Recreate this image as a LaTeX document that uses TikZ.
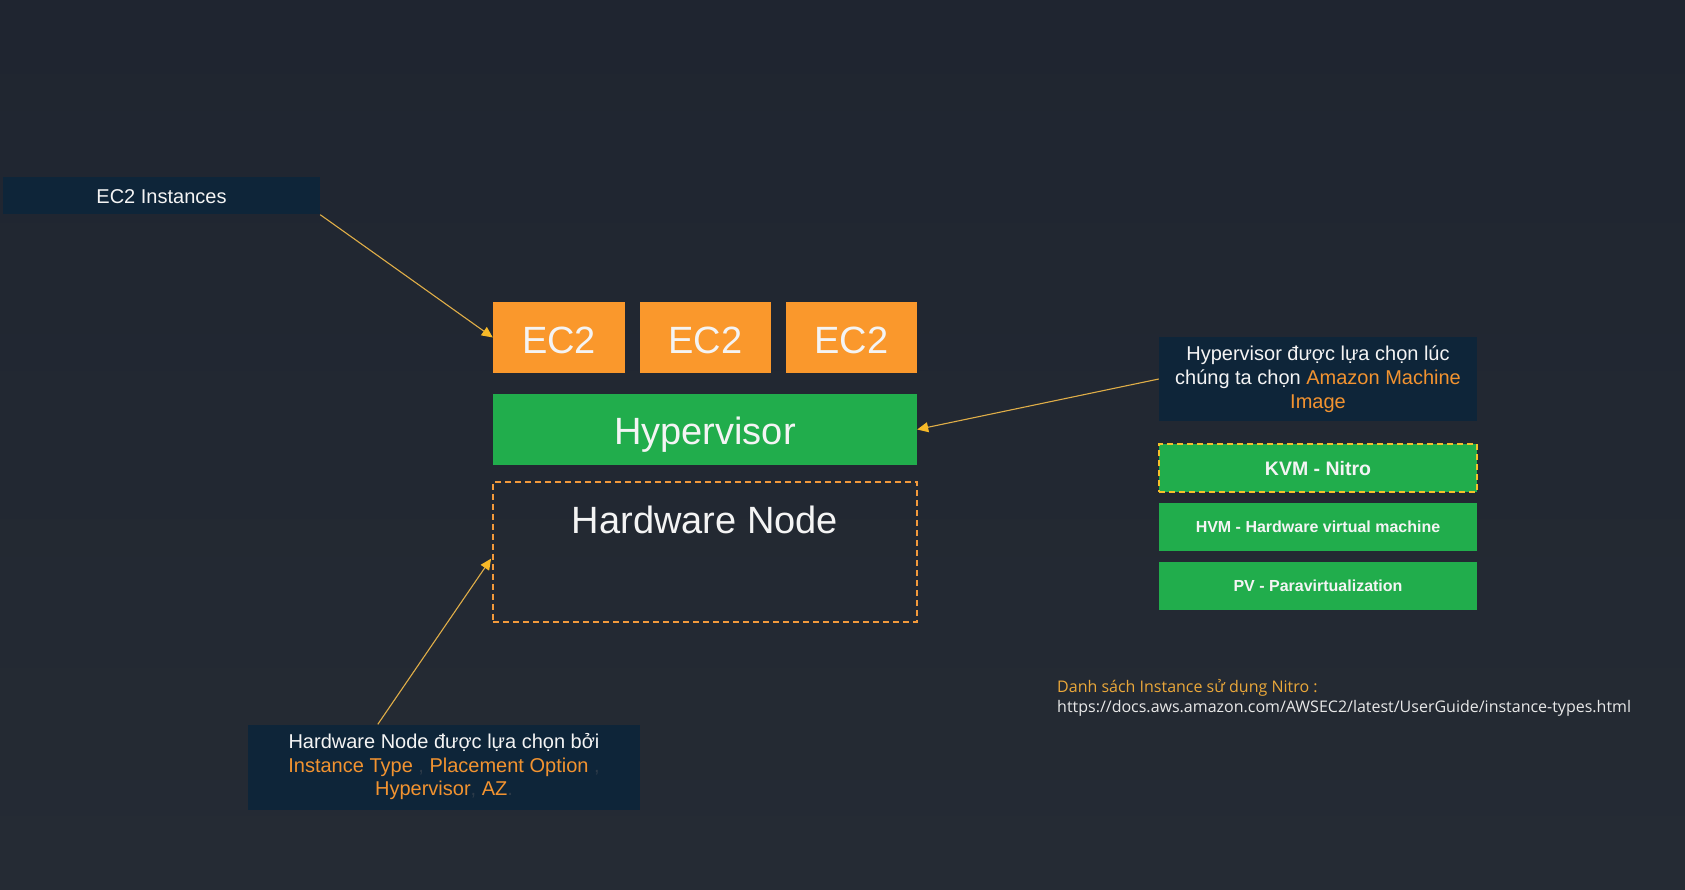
\documentclass[tikz,border=0pt]{standalone}
\usepackage{fontspec}
\setmainfont{Liberation Sans}
\newfontfamily\osans{Open Sans}
\usetikzlibrary{arrows.meta,calc}
\definecolor{bgtop}{HTML}{1F2530}
\definecolor{bgbot}{HTML}{252B34}
\definecolor{navy}{HTML}{0E2539}
\definecolor{ecorange}{HTML}{FA982C}
\definecolor{hvgreen}{HTML}{21AD4C}
\definecolor{txtorange}{HTML}{F29330}
\definecolor{dashorange}{HTML}{F39A3C}
\definecolor{dashyellow}{HTML}{F5C02A}
\definecolor{arrowline}{HTML}{E0AE48}
\definecolor{arrowtip}{HTML}{F7B928}
\definecolor{offwhite}{HTML}{F4F4F4}
\definecolor{linkorange}{HTML}{EBA83A}
\definecolor{linkwhite}{HTML}{E8E8E8}
\definecolor{darkcomma}{HTML}{2C3A48}
\tikzset{
  ec2box/.style={fill=ecorange, draw=none, minimum height=71pt, text=offwhite, font=\fontsize{38}{42}\selectfont, inner sep=0pt, text height=32pt, text depth=0pt},
  hvbox/.style={fill=hvgreen, draw=none, minimum width=424pt, minimum height=71pt, text=offwhite, font=\fontsize{38}{42}\selectfont, inner sep=0pt, text height=30.2pt, text depth=0pt},
  notebox/.style={fill=navy, draw=none, inner sep=0pt, text=offwhite, align=center},
  optbox/.style={fill=hvgreen, minimum width=318pt, minimum height=48pt, text=offwhite, font=\bfseries\fontsize{16}{19}\selectfont, inner sep=0pt, text height=11.5pt, text depth=0pt},
  callout/.style={draw=arrowline, line width=1.1pt, -{Triangle[length=11pt,width=10pt,fill=arrowtip,color=arrowtip]}},
}
\begin{document}
\begin{tikzpicture}[x=1pt,y=-1pt]
\useasboundingbox (0,0) rectangle (1685,890);
\shade[top color=bgtop, bottom color=bgbot] (0,0) rectangle (1685,890);

% EC2 instances label
\node[notebox, minimum width=317pt, minimum height=37pt, font=\fontsize{20}{23}\selectfont, text height=14.3pt, text depth=0pt] (ec2i) at (161.5,196) {EC2 Instances};

% EC2 boxes
\node[ec2box, minimum width=132pt] (e1) at (559,337.5) {EC2};
\node[ec2box, minimum width=131pt] (e2) at (705.5,337.5) {EC2};
\node[ec2box, minimum width=131pt] (e3) at (851.5,337.5) {EC2};

% Hypervisor
\node[hvbox] (hyp) at (705,429.5) {Hypervisor};

% Hardware node
\node[draw=dashorange, line width=1.6pt, dash pattern=on 6pt off 4pt, minimum width=424pt, minimum height=140pt, inner sep=0pt] (hw) at (705,552) {};
\node[text=offwhite, font=\fontsize{38}{42}\selectfont, inner sep=0pt] (hwlabel) at (705,520) {Hardware Node};

% Hardware note
\node[notebox, minimum width=392pt, minimum height=85pt, font=\fontsize{20}{23.5}\selectfont] (hwnote) at (444,767)
 {Hardware Node được lựa chọn bởi\\
  \textcolor{txtorange}{Instance Type} \textcolor{darkcomma}{,} \textcolor{txtorange}{Placement Option} \textcolor{darkcomma}{,}\\
  \textcolor{txtorange}{Hypervisor}\textcolor{darkcomma}{,} \textcolor{txtorange}{AZ}\textcolor{darkcomma}{.}};

% Hypervisor note
\node[notebox, minimum width=318pt, minimum height=84pt, font=\fontsize{20}{24}\selectfont] (hvnote) at (1318,379)
 {Hypervisor được lựa chọn lúc\\
  chúng ta chọn \textcolor{txtorange}{Amazon Machine}\\
  \textcolor{txtorange}{Image}};

% Options
\node[optbox, draw=dashyellow, line width=1.6pt, dash pattern=on 6pt off 4pt, font=\bfseries\fontsize{19.5}{22}\selectfont, text height=14pt] (kvm) at (1318,468) {KVM - Nitro};
\node[optbox] (hvm) at (1318,527) {HVM - Hardware virtual machine};
\node[optbox] (pv) at (1318,586) {PV - Paravirtualization};

% Link text
\node[anchor=west, inner sep=0pt, text=linkorange, font=\osans\fontsize{16}{19}\selectfont] (lk1) at (1057,688) {Danh sách Instance sử dụng Nitro :};
\node[anchor=west, inner sep=0pt, text=linkwhite, font=\osans\fontsize{16}{19}\selectfont] (lk2) at (1057,708) {https://docs.aws.amazon.com/AWSEC2/latest/UserGuide/instance-types.html};

% Callout arrows
\draw[callout] (ec2i.south east) -- (e1.west);
\draw[callout] (hvnote.west) -- (hyp.east);
\coordinate (hwstart) at ($(hwnote.north west)+(130,0)$);
\draw[callout, shorten >=2pt] (hwstart) -- ($(hw.west)+(0,5)$);
\end{tikzpicture}
\end{document}
